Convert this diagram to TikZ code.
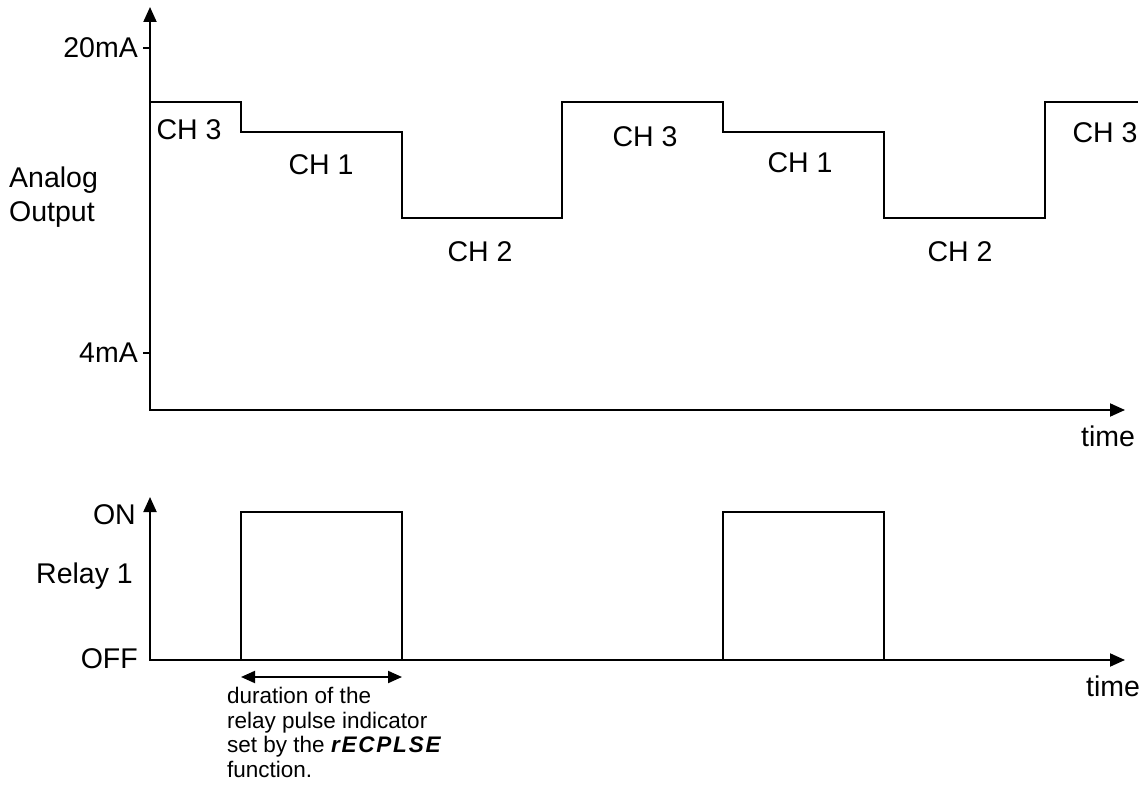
\documentclass[tikz,border=0pt]{standalone}
\usepackage{fontspec}
\setmainfont{Liberation Sans}
\usetikzlibrary{arrows.meta}
\begin{document}
\begin{tikzpicture}[x=1pt,y=-1pt,
  sig/.style={line width=2pt, line join=miter},
  axes/.style={line width=2pt, line join=miter, {Triangle[length=15pt,width=13pt]}-{Triangle[length=15pt,width=13pt]}},
  dim/.style={line width=2pt, {Triangle[length=14pt,width=12pt]}-{Triangle[length=14pt,width=12pt]}},
  lbl/.style={font=\fontsize{28.5}{34}\selectfont, inner sep=0pt},
  note/.style={font=\fontsize{22.5}{24.5}\selectfont, inner sep=0pt, align=left}]
\useasboundingbox (0,0) rectangle (1148,789);

% ---------- top chart: analog output ----------
\coordinate (ty) at (150,7);
\coordinate (to) at (150,410);
\coordinate (tx) at (1125,410);
\draw[axes] (ty) -- (to) -- (tx);
\draw[sig] (143,48) -- (150,48);
\draw[sig] (143,353) -- (150,353);

\draw[sig] (150,102) -- (241,102) -- (241,132) -- (402,132) -- (402,218)
  -- (562,218) -- (562,102) -- (723,102) -- (723,132) -- (884,132)
  -- (884,218) -- (1045,218) -- (1045,102) -- (1138,102);

\node[lbl, anchor=east] (l20) at (138,48) {20mA};
\node[lbl, anchor=east] (l4) at (138,353) {4mA};
\node[lbl, anchor=north west, align=left] (ao) at (9,167) {Analog\\Output};
\node[lbl, anchor=base] (t1) at (1108,446) {time};

\node[lbl] (c31) at (189,130) {CH 3};
\node[lbl] (c11) at (321,165) {CH 1};
\node[lbl] (c21) at (480,252) {CH 2};
\node[lbl] (c32) at (645,137) {CH 3};
\node[lbl] (c12) at (800,163) {CH 1};
\node[lbl] (c22) at (960,252) {CH 2};
\node[lbl] (c33) at (1105,133) {CH 3};

% ---------- bottom chart: relay ----------
\coordinate (by) at (150,497);
\coordinate (bo) at (150,660);
\coordinate (bx) at (1125,660);
\draw[axes] (by) -- (bo) -- (bx);
\draw[sig] (150,660) -- (241,660) -- (241,512) -- (402,512) -- (402,660)
  -- (723,660) -- (723,512) -- (884,512) -- (884,660) -- (1085,660);

\node[lbl, anchor=base east] (on) at (136,524) {ON};
\node[lbl, anchor=base west] (r1) at (36,583) {Relay 1};
\node[lbl, anchor=east] (off) at (138,659) {OFF};
\node[lbl, anchor=base] (t2) at (1113,696) {time};

\coordinate (da) at (241,677);
\coordinate (db) at (402,677);
\draw[dim] (da) -- (db);

\node[note, anchor=north west] (nt) at (227,687) {duration of the\\relay pulse indicator\\set by the {\bfseries\itshape\addfontfeature{LetterSpace=8}rECPLSE}\\function.};
\end{tikzpicture}
\end{document}
